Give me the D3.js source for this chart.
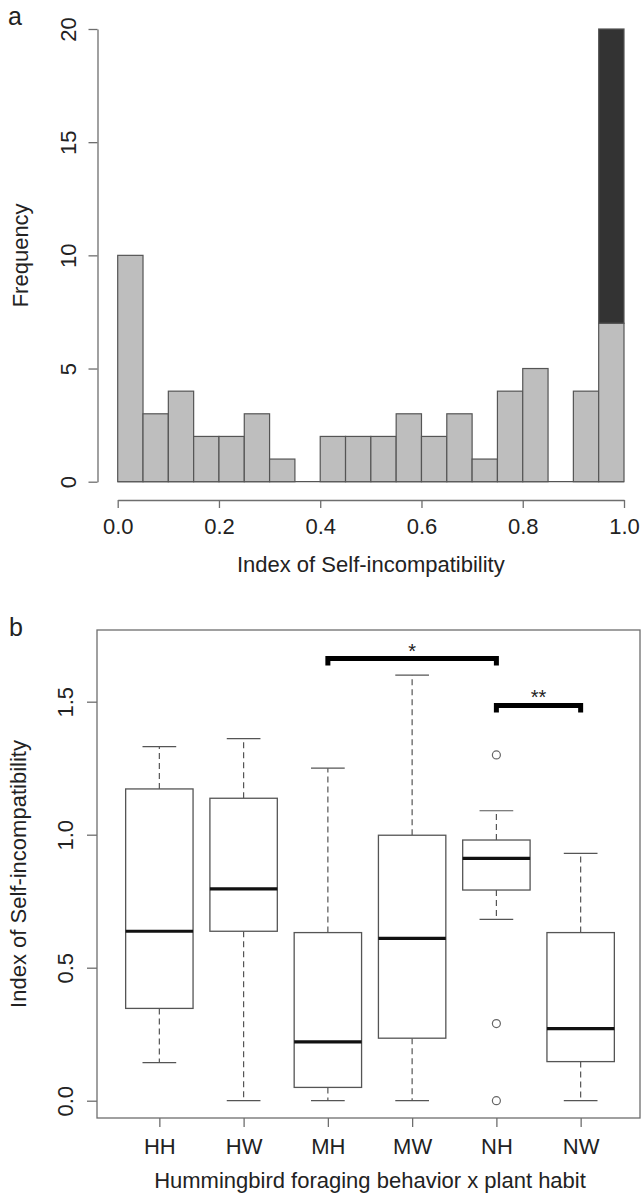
<!DOCTYPE html>
<html>
<head>
<meta charset="utf-8">
<script src="https://cdn.jsdelivr.net/npm/d3@7"></script>
<style>
  body { margin: 0; background: #fff; }
  svg { display: block; }
  text { font-family: "Liberation Sans", Arial, sans-serif; fill: #222; }
</style>
</head>
<body>
<div id="chart"></div>
<script>
// ---- panel a: histogram data ----
const binStart = [0, 0.05, 0.1, 0.15, 0.2, 0.25, 0.3, 0.35, 0.4, 0.45,
                  0.5, 0.55, 0.6, 0.65, 0.7, 0.75, 0.8, 0.85, 0.9, 0.95];
const binWidth = 0.05;
const lightCounts = [10, 3, 4, 2, 2, 3, 1, 0, 2, 2, 2, 3, 2, 3, 1, 4, 5, 0, 4, 7];
const darkCounts  = [0, 0, 0, 0, 0, 0, 0, 0, 0, 0, 0, 0, 0, 0, 0, 0, 0, 0, 0, 13];
const histXTicks = [0, 0.2, 0.4, 0.6, 0.8, 1.0];
const histYTicks = [0, 5, 10, 15, 20];

// ---- panel b: boxplot data ----
const groups      = ["HH", "HW", "MH", "MW", "NH", "NW"];
const whiskerLow  = [0.143, 0, 0, 0, 0.682, 0];
const q1          = [0.347, 0.637, 0.05, 0.235, 0.792, 0.147];
const medians     = [0.637, 0.796, 0.221, 0.61, 0.911, 0.271];
const q3          = [1.172, 1.137, 0.632, 0.998, 0.98, 0.632];
const whiskerHigh = [1.331, 1.361, 1.25, 1.60, 1.09, 0.93];
const outlierGroup = ["NH", "NH", "NH"];
const outlierValue = [1.30, 0.29, 0.0];
const boxYTicks = [0, 0.5, 1.0, 1.5];
// significance brackets: from group, to group, height, label
const bracketFrom  = ["MH", "NH"];
const bracketTo    = ["NH", "NW"];
const bracketY     = [1.662, 1.486];
const bracketLabel = ["*", "**"];

const W = 641, H = 1194;
const fs = 22;
const lineCol = "#6e6e6e";

const svg = d3.select("#chart").append("svg")
  .attr("width", W).attr("height", H);

/*---------- panel a ----------*/
const xA = d3.scaleLinear().domain([0, 1]).range([117.7, 624]);
const yA = d3.scaleLinear().domain([0, 20]).range([481.7, 29]);

const a = svg.append("g");
a.append("text").attr("x", 8).attr("y", 25).attr("font-size", 25).text("a");

// baseline (zero-height bins still show as a line in R)
a.append("line")
  .attr("x1", xA(0)).attr("x2", xA(1))
  .attr("y1", yA(0)).attr("y2", yA(0))
  .attr("stroke", "#555").attr("stroke-width", 1.2);

a.selectAll("rect.light")
  .data(binStart.map((s, i) => ({ s: s, n: lightCounts[i] })).filter(d => d.n > 0))
  .enter().append("rect")
  .attr("class", "light")
  .attr("x", d => xA(d.s))
  .attr("width", xA(binWidth) - xA(0))
  .attr("y", d => yA(d.n))
  .attr("height", d => yA(0) - yA(d.n))
  .attr("fill", "#bebebe")
  .attr("stroke", "#555").attr("stroke-width", 1.2);

a.selectAll("rect.dark")
  .data(binStart.map((s, i) => ({ s: s, lo: lightCounts[i], n: darkCounts[i] })).filter(d => d.n > 0))
  .enter().append("rect")
  .attr("class", "dark")
  .attr("x", d => xA(d.s))
  .attr("width", xA(binWidth) - xA(0))
  .attr("y", d => yA(d.lo + d.n))
  .attr("height", d => yA(d.lo) - yA(d.lo + d.n))
  .attr("fill", "#333")
  .attr("stroke", "#555").attr("stroke-width", 1.2);

// axes
const axA_x = a.append("g")
  .attr("transform", "translate(0,500)")
  .call(d3.axisBottom(xA).tickValues(histXTicks).tickFormat(d3.format(".1f"))
    .tickSize(8).tickSizeOuter(0));
axA_x.selectAll("text").attr("y", 34).attr("dy", 0).attr("font-size", fs);

const axA_y = a.append("g")
  .attr("transform", "translate(97.5,0)")
  .call(d3.axisLeft(yA).tickValues(histYTicks).tickSize(9).tickSizeOuter(0));
axA_y.selectAll("text")
  .attr("transform", "rotate(-90)")
  .attr("x", 0).attr("y", -21.5).attr("dy", 0)
  .attr("text-anchor", "middle").attr("font-size", fs);

[axA_x, axA_y].forEach(g => {
  g.attr("font-family", null).attr("font-size", null);
  g.selectAll("path, line").attr("stroke", lineCol).attr("stroke-width", 1.3);
});

a.append("text")
  .attr("x", (xA(0) + xA(1)) / 2).attr("y", 572)
  .attr("text-anchor", "middle").attr("font-size", fs)
  .text("Index of Self-incompatibility");
a.append("text")
  .attr("transform", `translate(28,${yA(10)}) rotate(-90)`)
  .attr("text-anchor", "middle").attr("font-size", fs)
  .text("Frequency");

/*---------- panel b ----------*/
const xB = d3.scaleLinear().domain([0.26, 6.74]).range([97, 643]);
const yB = d3.scaleLinear().domain([-0.065, 1.7695]).range([1118, 630]);
const pos = g => xB(groups.indexOf(g) + 1);
const unit = xB(1) - xB(0);

const b = svg.append("g");
b.append("text").attr("x", 9).attr("y", 636).attr("font-size", 25).text("b");

// frame
b.append("rect")
  .attr("x", xB.range()[0]).attr("y", yB.range()[1])
  .attr("width", 640 - xB.range()[0]).attr("height", yB.range()[0] - yB.range()[1])
  .attr("fill", "none").attr("stroke", lineCol).attr("stroke-width", 1.3);

const boxes = b.selectAll("g.box")
  .data(groups.map((g, i) => ({
    g: g, lo: whiskerLow[i], q1: q1[i], med: medians[i], q3: q3[i], hi: whiskerHigh[i]
  })))
  .enter().append("g").attr("class", "box");

// whiskers
boxes.append("line")
  .attr("x1", d => pos(d.g)).attr("x2", d => pos(d.g))
  .attr("y1", d => yB(d.q3)).attr("y2", d => yB(d.hi))
  .attr("stroke", "#555").attr("stroke-width", 1.2).attr("stroke-dasharray", "6,4");
boxes.append("line")
  .attr("x1", d => pos(d.g)).attr("x2", d => pos(d.g))
  .attr("y1", d => yB(d.q1)).attr("y2", d => yB(d.lo))
  .attr("stroke", "#555").attr("stroke-width", 1.2).attr("stroke-dasharray", "6,4");
// caps
["lo", "hi"].forEach(k => {
  boxes.append("line")
    .attr("x1", d => pos(d.g) - unit * 0.2).attr("x2", d => pos(d.g) + unit * 0.2)
    .attr("y1", d => yB(d[k])).attr("y2", d => yB(d[k]))
    .attr("stroke", "#555").attr("stroke-width", 1.2);
});
// box
boxes.append("rect")
  .attr("x", d => pos(d.g) - unit * 0.4)
  .attr("width", unit * 0.8)
  .attr("y", d => yB(d.q3))
  .attr("height", d => yB(d.q1) - yB(d.q3))
  .attr("fill", "#fff").attr("stroke", "#555").attr("stroke-width", 1.3);
// median
boxes.append("line")
  .attr("x1", d => pos(d.g) - unit * 0.4).attr("x2", d => pos(d.g) + unit * 0.4)
  .attr("y1", d => yB(d.med)).attr("y2", d => yB(d.med))
  .attr("stroke", "#111").attr("stroke-width", 3.2);

// outliers
b.selectAll("circle.out")
  .data(outlierValue.map((v, i) => ({ g: outlierGroup[i], v: v })))
  .enter().append("circle")
  .attr("class", "out")
  .attr("cx", d => pos(d.g)).attr("cy", d => yB(d.v)).attr("r", 4)
  .attr("fill", "none").attr("stroke", "#666").attr("stroke-width", 1.2);

// brackets
const brk = b.selectAll("g.brk")
  .data(bracketY.map((y, i) => ({ from: bracketFrom[i], to: bracketTo[i], y: y, lab: bracketLabel[i] })))
  .enter().append("g").attr("class", "brk");
brk.append("path")
  .attr("d", d => {
    const x1 = pos(d.from), x2 = pos(d.to), y = yB(d.y);
    return `M${x1},${y + 7}V${y}H${x2}V${y + 7}`;
  })
  .attr("fill", "none").attr("stroke", "#000").attr("stroke-width", 5);
brk.append("text")
  .attr("x", d => (pos(d.from) + pos(d.to)) / 2)
  .attr("y", d => yB(d.y) - 1)
  .attr("text-anchor", "middle").attr("font-size", 20)
  .text(d => d.lab);

// axes
const axB_x = b.append("g")
  .attr("transform", `translate(0,${yB.range()[0]})`)
  .call(d3.axisBottom(xB).tickValues(groups.map((g, i) => i + 1))
    .tickFormat((d, i) => groups[i]).tickSize(9).tickSizeOuter(0));
axB_x.select(".domain").remove();
axB_x.selectAll("text").attr("y", 36).attr("dy", 0).attr("font-size", fs);

const axB_y = b.append("g")
  .attr("transform", `translate(${xB.range()[0]},0)`)
  .call(d3.axisLeft(yB).tickValues(boxYTicks).tickFormat(d3.format(".1f"))
    .tickSize(10).tickSizeOuter(0));
axB_y.select(".domain").remove();
axB_y.selectAll("text")
  .attr("transform", "rotate(-90)")
  .attr("x", 0).attr("y", -24).attr("dy", 0)
  .attr("text-anchor", "middle").attr("font-size", fs);

[axB_x, axB_y].forEach(g => {
  g.attr("font-family", null).attr("font-size", null);
  g.selectAll("line").attr("stroke", lineCol).attr("stroke-width", 1.3);
});

b.append("text")
  .attr("x", (xB.range()[0] + xB.range()[1]) / 2).attr("y", 1188)
  .attr("text-anchor", "middle").attr("font-size", fs)
  .text("Hummingbird foraging behavior x plant habit");
b.append("text")
  .attr("transform", `translate(26,${(yB.range()[0] + yB.range()[1]) / 2}) rotate(-90)`)
  .attr("text-anchor", "middle").attr("font-size", fs)
  .text("Index of Self-incompatibility");
</script>
</body>
</html>
